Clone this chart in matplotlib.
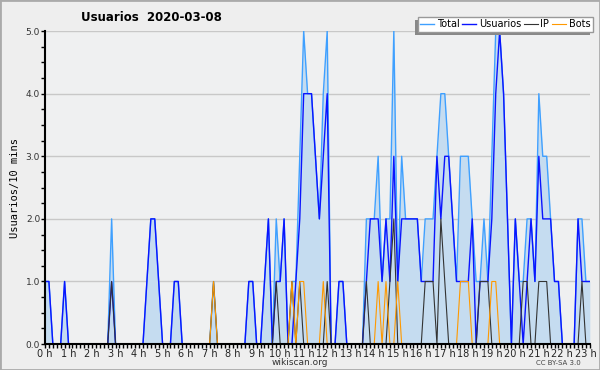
import numpy as np
import matplotlib
matplotlib.use('Agg')
import matplotlib.pyplot as plt
from matplotlib.patches import Rectangle
from matplotlib.ticker import MultipleLocator

# 10-minute slots from 00:00
total = [1, 1, 0, 0, 0, 1, 0, 0, 0, 0, 0, 0, 0, 0, 0, 0, 0, 2, 0, 0,
         0, 0, 0, 0, 0, 0, 1, 2, 2, 1, 0, 0, 0, 1, 1, 0, 0, 0, 0, 0,
         0, 0, 0, 1, 0, 0, 0, 0, 0, 0, 0, 0, 1, 1, 0, 0, 1, 2, 0, 2,
         1, 2, 0, 1, 1, 3, 5, 4, 4, 3, 2, 4, 5, 0, 0, 1, 1, 0, 0, 0,
         0, 0, 2, 2, 2, 3, 1, 2, 2, 5, 1, 3, 2, 2, 2, 2, 1, 2, 2, 2,
         3, 4, 4, 3, 2, 1, 3, 3, 3, 2, 1, 1, 2, 1, 3, 5, 5, 4, 2, 0,
         2, 1, 1, 2, 2, 1, 4, 3, 3, 2, 1, 1, 0, 0, 0, 0, 2, 2, 1, 1]
usuarios = [1, 1, 0, 0, 0, 1, 0, 0, 0, 0, 0, 0, 0, 0, 0, 0, 0, 1, 0, 0,
            0, 0, 0, 0, 0, 0, 1, 2, 2, 1, 0, 0, 0, 1, 1, 0, 0, 0, 0, 0,
            0, 0, 0, 0, 0, 0, 0, 0, 0, 0, 0, 0, 1, 1, 0, 0, 1, 2, 0, 1,
            1, 2, 0, 0, 1, 2, 4, 4, 4, 3, 2, 3, 4, 0, 0, 1, 1, 0, 0, 0,
            0, 0, 1, 2, 2, 2, 1, 2, 1, 3, 1, 2, 2, 2, 2, 2, 1, 1, 1, 1,
            3, 2, 3, 3, 2, 1, 1, 1, 1, 2, 0, 1, 1, 1, 2, 4, 5, 4, 2, 0,
            2, 1, 0, 1, 2, 1, 3, 2, 2, 2, 1, 1, 0, 0, 0, 0, 2, 1, 1, 1]
ip = [0, 0, 0, 0, 0, 0, 0, 0, 0, 0, 0, 0, 0, 0, 0, 0, 0, 1, 0, 0,
      0, 0, 0, 0, 0, 0, 0, 0, 0, 0, 0, 0, 0, 0, 0, 0, 0, 0, 0, 0,
      0, 0, 0, 1, 0, 0, 0, 0, 0, 0, 0, 0, 0, 0, 0, 0, 0, 0, 0, 1,
      0, 0, 0, 1, 0, 1, 0, 0, 0, 0, 0, 0, 1, 0, 0, 0, 0, 0, 0, 0,
      0, 0, 1, 0, 0, 0, 0, 0, 1, 2, 0, 0, 0, 0, 0, 0, 0, 1, 1, 1,
      0, 2, 1, 0, 0, 0, 0, 0, 0, 0, 0, 1, 1, 1, 0, 0, 0, 0, 0, 0,
      0, 0, 1, 1, 0, 0, 1, 1, 1, 0, 0, 0, 0, 0, 0, 0, 0, 1, 0, 0]
bots = [0, 0, 0, 0, 0, 0, 0, 0, 0, 0, 0, 0, 0, 0, 0, 0, 0, 0, 0, 0,
        0, 0, 0, 0, 0, 0, 0, 0, 0, 0, 0, 0, 0, 0, 0, 0, 0, 0, 0, 0,
        0, 0, 0, 1, 0, 0, 0, 0, 0, 0, 0, 0, 0, 0, 0, 0, 0, 0, 0, 0,
        0, 0, 0, 1, 0, 1, 1, 0, 0, 0, 0, 1, 0, 0, 0, 0, 0, 0, 0, 0,
        0, 0, 0, 0, 0, 1, 0, 1, 0, 0, 1, 0, 0, 0, 0, 0, 0, 0, 0, 0,
        0, 0, 0, 0, 0, 0, 1, 1, 1, 0, 0, 0, 0, 0, 1, 1, 0, 0, 0, 0,
        0, 0, 0, 0, 0, 0, 0, 0, 0, 0, 0, 0, 0, 0, 0, 0, 0, 0, 0, 0]
hour_labels = ['{} h'.format(h) for h in range(24)]
y_labels = ['0.0', '1.0', '2.0', '3.0', '4.0', '5.0']

hours = np.arange(len(total)) / 6.0

fig = plt.figure(figsize=(6, 3.7), dpi=100, facecolor='#eeeeee')
axe = fig.add_axes([0.075, 0.07, 0.908, 0.846])
axe.set_facecolor('#eff0f1')

axe.fill_between(hours, total, 0, color='#c5dcf0', lw=0)
axe.plot(hours, total, color='#3fa0ff', lw=1.0, label='Total')
axe.plot(hours, usuarios, color='#0a14ff', lw=1.0, label='Usuarios')
axe.plot(hours, ip, color='#333333', lw=0.8, label='IP')
axe.plot(hours, bots, color='#ff9900', lw=0.8, label='Bots')

axe.set_xlim(0, hours[-1])
axe.set_ylim(0, 5)
axe.set_yticks(range(6))
axe.set_yticklabels(y_labels, fontsize=6.5, color='#333333')
axe.yaxis.set_minor_locator(MultipleLocator(0.25))
axe.set_xticks(range(24))
axe.set_xticklabels(hour_labels, fontsize=7, color='#222222')
axe.xaxis.set_minor_locator(MultipleLocator(1 / 6))
axe.tick_params(axis='both', which='major', length=3, width=1, pad=0.5)
axe.tick_params(axis='both', which='minor', length=3, width=1)
axe.grid(axis='y', which='major', color='#c8c8c8', lw=1)
axe.set_axisbelow(True)
for s in ['top', 'right']:
    axe.spines[s].set_visible(False)
for s in ['left', 'bottom']:
    axe.spines[s].set_linewidth(1.5)
axe.set_ylabel('Usuarios/10 mins', family='DejaVu Sans Mono', fontsize=7.5, labelpad=4)

fig.text(0.252, 0.953, 'Usuarios  2020-03-08', fontsize=8.5, fontweight='bold', ha='center', va='center')
fig.text(0.5, 0.02, 'wikiscan.org', fontsize=6.5, ha='center', va='center', color='#333333')
fig.text(0.968, 0.02, 'CC BY-SA 3.0', fontsize=5, ha='right', va='center', color='#444444')

leg = fig.legend(loc='upper right', bbox_to_anchor=(0.988, 0.954), ncol=4, fontsize=7,
                 frameon=True, fancybox=False, framealpha=1,
                 handlelength=1.4, handletextpad=0.3, columnspacing=0.3,
                 borderpad=0.25, borderaxespad=0)
leg.get_frame().set_edgecolor('#999999')
leg.get_frame().set_linewidth(1)
leg.set_zorder(10)

# shadow of the legend box, offset to the lower left
fig.canvas.draw()
bb = leg.get_window_extent().transformed(fig.transFigure.inverted())
fig.add_artist(Rectangle((bb.x0 - 3 / 600, bb.y0 - 3 / 370), bb.width, bb.height,
                         transform=fig.transFigure, fc='#888888', ec='none', zorder=9))

fig.add_artist(Rectangle((0, 0), 1, 1, transform=fig.transFigure, fill=False,
                         ec='#aaaaaa', lw=2))

plt.savefig('out.png', dpi=100, facecolor=fig.get_facecolor())
